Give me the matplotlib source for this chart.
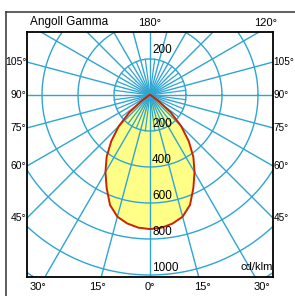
import numpy as np
import matplotlib.pyplot as plt
from matplotlib.lines import Line2D

# 光强分布曲线 (cd/klm)，对称
gamma = [0, 5, 10, 15, 20, 25, 30, 35, 40, 45, 50, 55, 60, 65, 70, 75, 80, 85, 90]
intensity = [745, 740, 725, 700, 650, 570, 495, 420, 335, 245, 150, 55, 15, 9, 7, 6, 5, 4, 3]

rings = [200, 400, 600, 800, 1000, 1200, 1400, 1600, 1800, 2000]
ring_labels = ['200', '400', '600', '800', '1000']
side_angles = [105, 90, 75, 60, 45]
bottom_angles = [30, 15, 0, 15, 30]

grid_col = '#2fa5d2'
W, H = 295, 296
fig = plt.figure(figsize=(W / 100, H / 100), dpi=100)
plt.rcParams['font.family'] = ['Liberation Sans', 'DejaVu Sans']

# 内框像素位置
left, right, top, bottom = 27, 273, 32, 277
cx, cy = 150, 95
scale = 36 / 200  # 像素 / cd

ax = fig.add_axes([left / W, 1 - bottom / H, (right - left) / W, (bottom - top) / H])
ax.set_xlim((left - cx) / scale, (right - cx) / scale)
ax.set_ylim(-(bottom - cy) / scale, (cy - top) / scale)
ax.set_xticks([])
ax.set_yticks([])
for s in ax.spines.values():
    s.set_linewidth(1.3)
    s.set_color('black')

# 曲线
g = np.radians(gamma)
I = np.array(intensity)
th = np.concatenate([-g[::-1], g[1:]])
rr = np.concatenate([I[::-1], I[1:]])
x = rr * np.sin(th)
y = -rr * np.cos(th)
ax.fill(x, y, color='#ffff88', zorder=1, lw=0)
ax.plot(x, y, color='#cc2200', lw=1.4, zorder=4)

# 网格
t = np.linspace(0, 2 * np.pi, 400)
for r in rings:
    ax.plot(r * np.cos(t), r * np.sin(t), color=grid_col, lw=1.0, zorder=2)
for a in np.arange(0, 360, 15):
    ar = np.radians(a)
    ax.plot([0, 3000 * np.sin(ar)], [0, -3000 * np.cos(ar)], color=grid_col, lw=1.0, zorder=2)
for a in np.arange(7.5, 360, 15):
    ar = np.radians(a)
    ax.plot([0, 200 * np.sin(ar)], [0, -200 * np.cos(ar)], color=grid_col, lw=0.9, zorder=2)

# 环标签
ax.text(12, 215, '200', fontsize=8.5, ha='left', va='bottom', zorder=5)
for lab in ring_labels:
    ax.text(12, -int(lab) + 8, lab, fontsize=8.5, ha='left', va='bottom', zorder=5)
ax.text(680, -985, 'cd/klm', fontsize=8, ha='right', va='bottom', zorder=5)

xl, xr = ax.get_xlim()
yb, yt = ax.get_ylim()
for a in side_angles:
    ar = np.radians(a)
    yy = xr / np.tan(ar) * -1
    ax.text(xl - 3, yy, f'{a}°', fontsize=7.5, ha='right', va='center', clip_on=False)
    ax.text(xr + 3, yy, f'{a}°', fontsize=7.2, ha='left', va='center', clip_on=False)
for i, a in enumerate(bottom_angles):
    ar = np.radians(a)
    sgn = -1 if i < 2 else 1
    xx = sgn * (-yb) * np.tan(ar) * 1.07
    ax.text(xx, yb - 25, f'{a}°', fontsize=8, ha='center', va='top', clip_on=False)
ax.text(0, yt + 25, '180°', fontsize=8, ha='center', va='bottom', clip_on=False)
ax.text(yt * np.tan(np.radians(60)) * 1.06, yt + 25, '120°', fontsize=8, ha='center', va='bottom', clip_on=False)
ax.text(xl + 15, yt + 25, 'Angoll Gamma', fontsize=8.5, ha='left', va='bottom', clip_on=False)

# 外框
fig.add_artist(Line2D([6 / W, 6 / W], [0, 1 - 12 / H], color='#333333', lw=1.1))
fig.add_artist(Line2D([6 / W, 1], [1 - 12 / H, 1 - 12 / H], color='#333333', lw=1.1))

fig.savefig('out.png', dpi=100)
